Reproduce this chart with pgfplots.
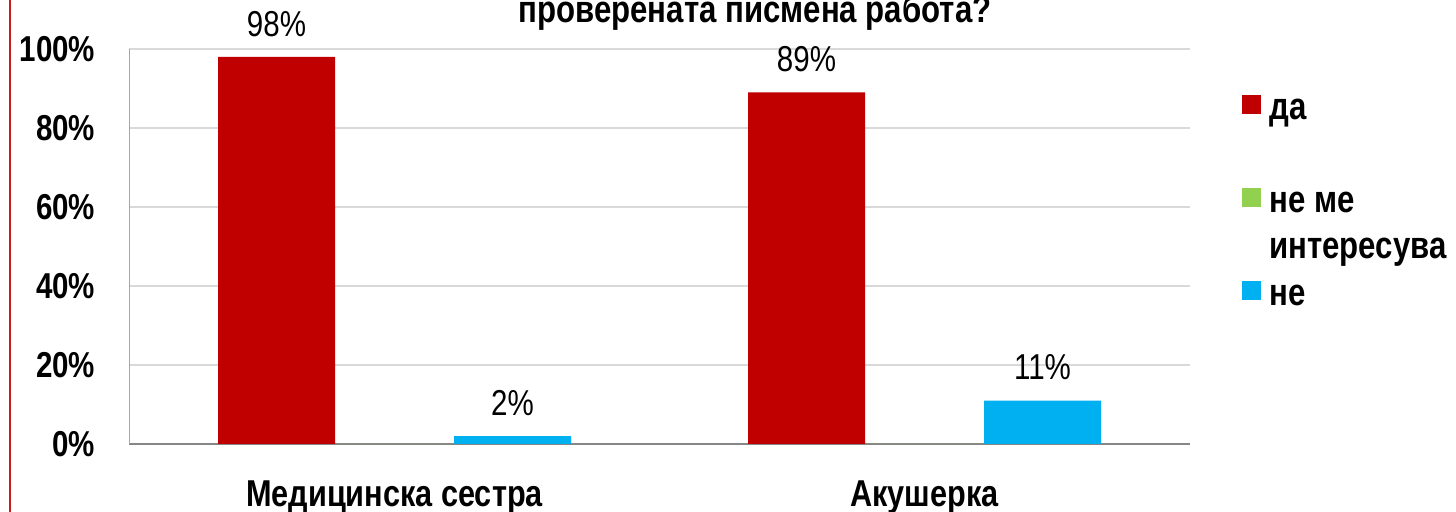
\documentclass[border=0pt]{standalone}
\usepackage{pgfplots}
\pgfplotsset{compat=1.18}
\usepackage{fontspec}
\setmainfont{Liberation Sans}[FakeStretch=0.82]
\definecolor{cda}{HTML}{C00000}
\definecolor{cme}{HTML}{92D050}
\definecolor{cne}{HTML}{00B0F0}
\definecolor{gridc}{HTML}{D9D9D9}
\definecolor{axc}{HTML}{A6A6A6}
\definecolor{axb}{HTML}{868686}
\definecolor{slidered}{HTML}{CC1A1A}
\begin{document}
\begin{tikzpicture}
\path[use as bounding box] (0,0) rectangle (728pt,256pt);
\draw[slidered, line width=1pt] (4.9pt,0) -- (4.9pt,256pt);
\node[anchor=base, font=\bfseries\fontsize{19}{23}\selectfont, inner sep=0pt] at (377.5pt,244.5pt) {проверената писмена работа?};
\begin{axis}[
  at={(64.75pt,34pt)}, anchor=south west,
  scale only axis, width=530pt, height=197.5pt,
  xmin=-0.5, xmax=1.5, ymin=0, ymax=100,
  clip=false,
  ybar, bar width=58.5pt,
  axis lines*=left,
  x axis line style={draw=axb, line width=0.8pt},
  y axis line style={draw=axc, line width=0.8pt},
  ymajorgrids, grid style={gridc, line width=0.8pt},
  major tick length=0pt,
  xtick={0,1}, xticklabels={Медицинска сестра, Акушерка},
  ytick={0,20,40,60,80,100}, yticklabels={0\%,20\%,40\%,60\%,80\%,100\%},
  tick label style={font=\bfseries\fontsize{18}{22}\selectfont},
  yticklabel style={anchor=east, inner sep=0pt, xshift=-17pt},
  xticklabel style={anchor=north, inner sep=0pt, yshift=-18pt, font=\bfseries\fontsize{18.7}{22}\selectfont},
  every node near coord/.append style={font=\fontsize{18}{22}\selectfont, anchor=south, inner sep=0pt, yshift=10pt, text=black},
  legend style={at={(1.0495,0.8937)}, anchor=north west, draw=none, fill=none,
    font=\bfseries\fontsize{19}{23}\selectfont, row sep=0pt, inner sep=0pt,
    nodes={inner sep=0pt, text height=14pt, text depth=9.25pt}, column sep=4pt},
  legend cell align=left,
  legend image code/.code={\fill[#1] (0pt,0.5pt) rectangle (9.5pt,10pt);},
]
\addplot[fill=cda, draw=none, bar shift=-59pt,
  nodes near coords={\pgfmathprintnumber[assume math mode=true]{\pgfplotspointmeta}\%}]
  coordinates {(0,98) (1,89)};
\addlegendentry{да}
\addlegendimage{empty legend}
\addlegendentry{\phantom{x}}
\addplot[fill=cme, draw=none, bar shift=0pt]
  coordinates {(0,0) (1,0)};
\addlegendentry{не ме}
\addlegendimage{empty legend}
\addlegendentry{интересува}
\addplot[fill=cne, draw=none, bar shift=59pt,
  nodes near coords={\pgfmathprintnumber[assume math mode=true]{\pgfplotspointmeta}\%}]
  coordinates {(0,2) (1,11)};
\addlegendentry{не}
\end{axis}
\end{tikzpicture}
\end{document}
